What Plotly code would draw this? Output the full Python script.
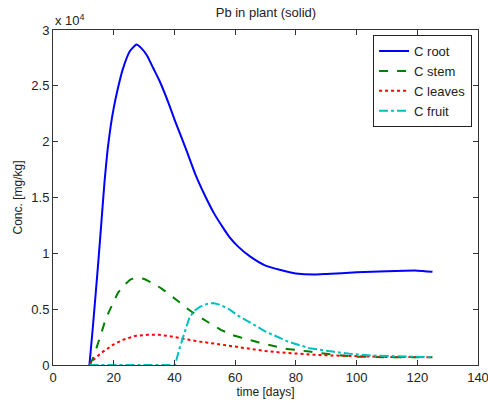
import plotly.graph_objects as go

# Simulated Pb concentration in plant compartments (mg/kg) over time (days)
t_root = [12, 13, 14, 15, 16, 17, 18, 19, 20, 21.4, 23, 25.3, 27.5, 29, 31, 33, 35, 38,
          40, 42, 44, 47, 50, 53, 56, 58, 61, 65, 70, 75, 80, 86, 90, 100, 110, 120, 125]
c_root = [0, 3000, 6200, 9500, 13000, 16500, 19300, 21400, 23000, 24800, 26500, 28100, 28700,
          28400, 27700, 26600, 25500, 23500, 22000, 20600, 19200, 17000, 15200, 13600, 12300,
          11500, 10600, 9700, 8900, 8500, 8200, 8100, 8150, 8300, 8400, 8450, 8350]

t_stem = [12, 13, 15.5, 17.5, 19.7, 21.5, 23.7, 25.5, 27.6, 30, 33, 36, 40.8, 45, 51, 55, 59,
          64, 68, 72, 75.7, 80, 84.5, 90, 95, 100, 110, 125]
c_stem = [0, 500, 2500, 4200, 5500, 6500, 7200, 7650, 7800, 7700, 7300, 6800, 5800, 4900, 3850,
          3200, 2700, 2300, 2000, 1750, 1500, 1350, 1200, 1000, 850, 750, 700, 700]

t_leaves = [12, 13, 16, 19.7, 23, 27, 31, 35, 38, 41.8, 45, 48, 51, 55, 59, 64, 70, 75, 81, 86,
            92, 100, 110, 125]
c_leaves = [0, 400, 1100, 1800, 2250, 2600, 2700, 2700, 2600, 2400, 2250, 2100, 2000, 1850,
            1650, 1450, 1250, 1120, 1000, 920, 850, 780, 720, 700]

t_fruit = [12, 20, 30, 40.2, 41.8, 43.5, 45, 46.8, 48.4, 50.5, 52.7, 55, 58, 60.5, 64.8, 70,
           77.4, 84.5, 92, 97.7, 105, 115, 125]
c_fruit = [0, 0, 0, 0, 1600, 3000, 4300, 4900, 5200, 5450, 5550, 5400, 5000, 4500, 3850, 3000,
           2100, 1500, 1200, 1000, 850, 750, 700]

y_tickvals = [0, 5000, 10000, 15000, 20000, 25000, 30000]
y_ticktext = ["0", "0.5", "1", "1.5", "2", "2.5", "3"]
x_tickvals = [0, 20, 40, 60, 80, 100, 120, 140]

fig = go.Figure()
fig.add_trace(go.Scatter(x=t_root, y=c_root, mode="lines", name="C root",
                         line=dict(color="#0000ff", width=2, shape="spline", smoothing=0.5)))
fig.add_trace(go.Scatter(x=t_stem, y=c_stem, mode="lines", name="C stem",
                         line=dict(color="#008000", width=2, dash="dash",
                                   shape="spline", smoothing=0.5)))
fig.add_trace(go.Scatter(x=t_leaves, y=c_leaves, mode="lines", name="C leaves",
                         line=dict(color="#ff0000", width=2, dash="dot")))
fig.add_trace(go.Scatter(x=t_fruit, y=c_fruit, mode="lines", name="C fruit",
                         line=dict(color="#00bfbf", width=2, dash="dashdot")))

axis_common = dict(showgrid=False, zeroline=False, showline=True, linecolor="#333333",
                   linewidth=1, mirror="ticks", ticks="inside", ticklen=5, automargin=False,
                   ticklabeloverflow="allow",
                   tickcolor="#333333", tickfont=dict(size=13, color="#222222"))

fig.update_layout(
    width=488, height=403,
    margin=dict(l=53, r=10, t=30, b=38),
    paper_bgcolor="white", plot_bgcolor="white",
    font=dict(family="Liberation Sans, Arial, sans-serif", size=13, color="#222222"),
    title=dict(text="Pb in plant (solid)", x=0.545, xanchor="center", y=0.97, yanchor="middle",
               font=dict(size=13)),
    xaxis=dict(range=[0, 140], tickvals=x_tickvals,
               title=dict(text="time [days]", standoff=2, font=dict(size=12)),
               **axis_common),
    yaxis=dict(range=[0, 30000], tickvals=y_tickvals, ticktext=y_ticktext,
               title=dict(text="Conc. [mg/kg]", standoff=6, font=dict(size=12)),
               **axis_common),
    legend=dict(x=0.986, y=0.985, xanchor="right", yanchor="top",
                bgcolor="white", bordercolor="#222222", borderwidth=1,
                font=dict(size=13), tracegroupgap=0, itemwidth=30),
    showlegend=True,
)

fig.add_annotation(text="x 10<sup>4</sup>", xref="paper", yref="paper", x=0, y=1.0,
                   xanchor="left", yanchor="bottom", showarrow=False,
                   font=dict(size=13, color="#222222"), yshift=0)

fig.write_html("out.html")
